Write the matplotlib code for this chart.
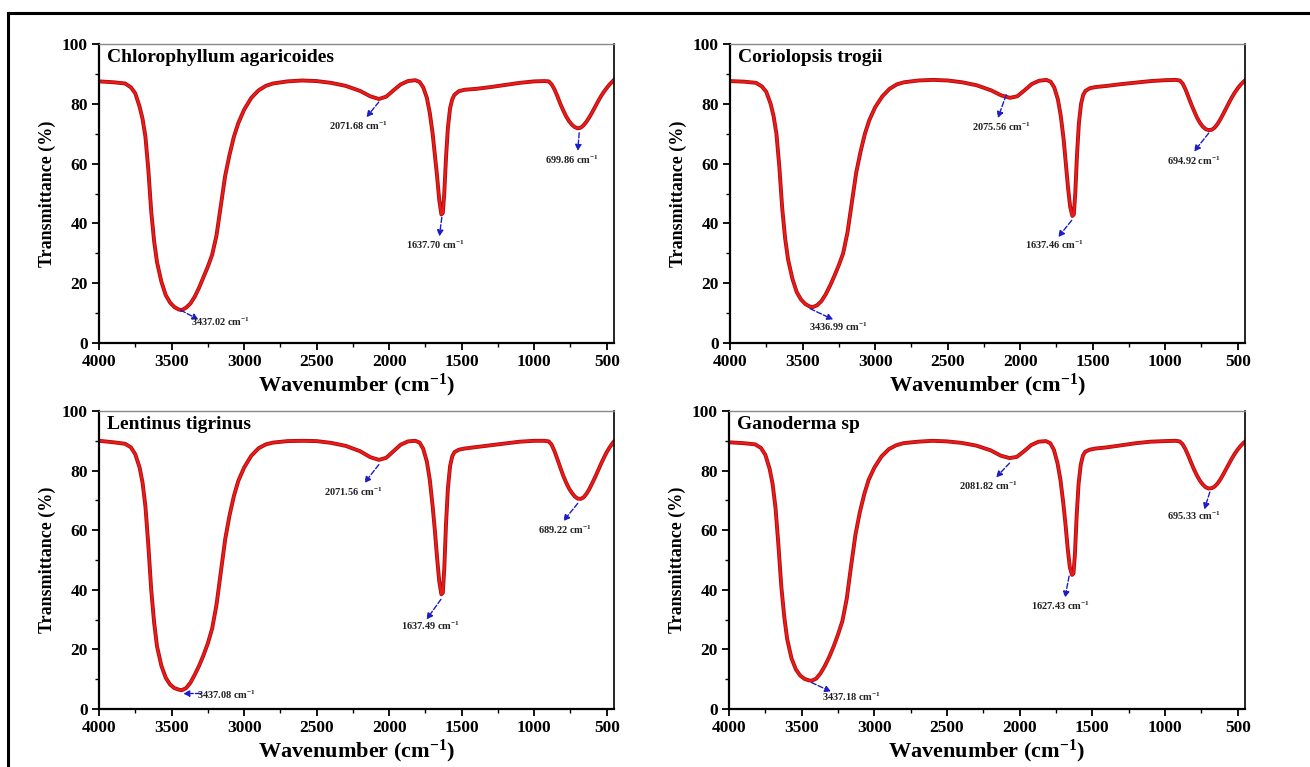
import matplotlib
matplotlib.use('Agg')
import matplotlib.pyplot as plt
from matplotlib.lines import Line2D
from matplotlib.ticker import MultipleLocator

plt.rcParams['font.family'] = ['Liberation Serif', 'DejaVu Serif']
plt.rcParams['font.weight'] = 'bold'
plt.rcParams['mathtext.fontset'] = 'custom'
plt.rcParams['mathtext.rm'] = 'Liberation Serif:bold'
plt.rcParams['mathtext.bf'] = 'Liberation Serif:bold'
plt.rcParams['mathtext.default'] = 'bf'

# shared wavenumber grid (cm-1)
wn = [4000, 3900, 3820, 3780, 3750, 3720, 3700, 3680, 3660, 3640,
      3620, 3600, 3570, 3540, 3510, 3480, 3450, 3430, 3400, 3370,
      3340, 3310, 3280, 3250, 3220, 3190, 3160, 3130, 3100, 3070,
      3040, 3000, 2950, 2900, 2850, 2800, 2700, 2600, 2500, 2400,
      2300, 2200, 2130, 2070, 2020, 1970, 1920, 1870, 1820, 1790,
      1765, 1740, 1720, 1700, 1685, 1670, 1655, 1640, 1630, 1620,
      1608, 1595, 1580, 1565, 1550, 1520, 1480, 1400, 1300, 1200,
      1100, 1000, 930, 900, 880, 860, 840, 820, 800, 780,
      760, 740, 720, 700, 680, 660, 640, 620, 600, 580,
      560, 540, 520, 500, 480, 460, 450]

t_chloro = [87.5, 87.2, 86.8, 85.5, 83.5, 79, 75, 69, 58, 44,
            34, 27, 20.5, 16, 13.5, 12, 11.2, 11, 11.8, 13.2,
            15.5, 18.5, 22, 25.5, 29.5, 36, 46, 56, 63, 69,
            73.5, 78, 82, 84.5, 86, 86.8, 87.5, 87.8, 87.6, 87,
            86, 84.3, 82.5, 81.6, 82.4, 84.5, 86.5, 87.6, 87.9, 87.3,
            85.5, 82, 77, 70, 63, 56, 48, 43, 43.5, 50,
            62, 72, 78.5, 81.5, 83, 84.2, 84.7, 85, 85.6, 86.3,
            87, 87.5, 87.6, 87.5, 86.5, 84.8, 82.5, 80, 77.8, 75.8,
            74.2, 73, 72.2, 71.8, 72, 72.8, 74, 75.5, 77.2, 79,
            80.8, 82.5, 84, 85.3, 86.5, 87.5, 88]

t_corio = [87.6, 87.4, 87, 85.8, 84, 80, 76, 70, 59, 45,
           35, 28, 21.5, 17, 14.5, 13, 12.2, 12, 12.6, 14,
           16.3, 19.2, 22.5, 26, 30, 37, 47, 57, 64, 70,
           74.5, 78.8, 82.5, 85, 86.5, 87.2, 87.8, 88, 87.8, 87.2,
           86.2, 84.5, 82.8, 82, 82.5, 84.5, 86.6, 87.7, 88, 87.4,
           85.5, 81.5, 76, 68, 60, 52, 45.5, 42.5, 43, 50,
           63, 73.5, 80, 83, 84.3, 85.2, 85.6, 86, 86.6, 87.1,
           87.6, 87.9, 88, 87.8, 86.8, 84.8, 82.3, 79.8, 77.5, 75.3,
           73.6, 72.3, 71.5, 71.2, 71.3, 72, 73.2, 74.8, 76.6, 78.5,
           80.4, 82.2, 83.8, 85.2, 86.4, 87.4, 87.8]

t_lenti = [90, 89.5, 89, 87.8, 85.5, 81, 76, 68, 55, 40,
           29, 21, 14.5, 10.5, 8.2, 7, 6.5, 6.3, 7, 8.8,
           11.5, 14.5, 18, 22, 27, 35, 46, 57, 65, 71.5,
           76.5, 81, 85, 87.5, 88.8, 89.4, 89.9, 90, 89.9, 89.3,
           88.3, 86.5, 84.5, 83.6, 84.3, 86.5, 88.7, 89.8, 90, 89.4,
           87.3, 83, 77, 68, 60, 51, 43, 38.5, 39, 47,
           62, 74, 81.5, 84.8, 86.2, 87, 87.4, 87.9, 88.5, 89.1,
           89.7, 90, 90, 89.8, 88.7, 86.5, 83.8, 81, 78.3, 76,
           74, 72.5, 71.3, 70.6, 70.5, 71, 72.2, 73.8, 75.8, 77.8,
           80, 82.2, 84.3, 86.2, 87.8, 89.2, 89.8]

t_gano = [89.5, 89.2, 88.8, 87.6, 85.3, 80.5, 75.5, 67.5, 55, 41,
          31, 23.5, 17, 13.3, 11.2, 10.1, 9.6, 9.5, 10.2, 12,
          14.5, 17.5, 21, 25, 29.5, 37, 48, 58.5, 66, 72,
          76.8, 81, 84.8, 87.2, 88.5, 89.2, 89.7, 90, 89.8, 89.3,
          88.4, 86.8, 85, 84.2, 84.6, 86.5, 88.6, 89.7, 89.9, 89.2,
          87, 82.5, 77, 69, 62, 54, 47.5, 45, 45.5, 52,
          65, 75.5, 82, 85, 86.3, 87, 87.4, 87.8, 88.5, 89.2,
          89.7, 89.9, 90, 89.8, 88.9, 87.2, 85, 82.6, 80.3, 78.3,
          76.6, 75.3, 74.4, 74, 74.1, 74.6, 75.6, 77, 78.7, 80.5,
          82.3, 84.1, 85.7, 87.1, 88.3, 89.3, 89.7]

names = ['Chlorophyllum agaricoides', 'Coriolopsis trogii',
         'Lentinus tigrinus', 'Ganoderma sp']
series = [t_chloro, t_corio, t_lenti, t_gano]

peak_labels = [
    ['3437.02', '2071.68', '1637.70', '699.86'],
    ['3436.99', '2075.56', '1637.46', '694.92'],
    ['3437.08', '2071.56', '1637.49', '689.22'],
    ['3437.18', '2081.82', '1627.43', '695.33'],
]

# arrow tail, arrow head, label centre for each peak (layout only)
arrows = [
    [((3437, 11), (3314, 7.8), (3160, 7.0)),
     ((2071, 80.6), (2157, 75.5), (2214, 72.6)),
     ((1637, 42), (1654, 35.6), (1680, 32.8)),
     ((690, 70.3), (700, 64.2), (743, 61.4))],
    [((3448, 11.5), (3288, 7.8), (3250, 5.4)),
     ((2096, 83), (2154, 75.2), (2125, 72.2)),
     ((1645, 41), (1738, 35.4), (1762, 32.7)),
     ((700, 70.2), (802, 64), (802, 61))],
    [((3300, 5.2), (3420, 5.2), (3120, 4.7)),
     ((2071, 82), (2171, 75.8), (2243, 73)),
     ((1643, 36.8), (1743, 30), (1714, 27.9)),
     ((700, 69), (800, 63), (786, 60.2))],
    [((3433, 8.9), (3297, 5.8), (3160, 4.1)),
     ((2070, 82.5), (2163, 77.7), (2212, 75)),
     ((1660, 44.6), (1689, 37.3), (1718, 34.6)),
     ((692, 72.8), (730, 66.9), (802, 64.7))],
]

W, H = 1310, 767
fig = plt.figure(figsize=(W / 100, H / 100), dpi=100)
boxes = [(99, 44, 515, 299), (730, 44, 515, 299),
         (99, 411, 515, 298), (729, 411, 516, 298)]

for i, (x0, y0, w, h) in enumerate(boxes):
    ax = fig.add_axes([x0 / W, 1 - (y0 + h) / H, w / W, h / H])
    ax.plot(wn, series[i], color='#a80c0c', lw=2.8, solid_joinstyle='round')
    ax.plot(wn, series[i], color='#ee1a1a', lw=1.6, solid_joinstyle='round')
    ax.set_xlim(4000, 450)
    ax.set_ylim(0, 100)
    ax.xaxis.set_major_locator(MultipleLocator(500))
    ax.xaxis.set_minor_locator(MultipleLocator(250))
    ax.yaxis.set_major_locator(MultipleLocator(20))
    ax.yaxis.set_minor_locator(MultipleLocator(10))
    ax.tick_params(which='major', direction='out', length=5, width=1.3,
                   labelsize=12.5, pad=3)
    ax.tick_params(which='minor', direction='out', length=3, width=1)
    for lab in ax.get_xticklabels() + ax.get_yticklabels():
        lab.set_fontweight('bold')
    for s in ['left', 'bottom']:
        ax.spines[s].set_linewidth(1.6)
    ax.spines['right'].set_linewidth(1.2)
    ax.spines['top'].set_linewidth(1.0)
    ax.spines['top'].set_color('#888888')
    ax.set_xlabel('Wavenumber (cm$^{-1}$)', fontsize=16,
                  fontweight='bold', labelpad=1)
    ax.set_ylabel('Transmittance (%)', fontsize=13, fontweight='bold',
                  labelpad=4)
    ax.text(0.016, 0.955, names[i], transform=ax.transAxes, fontsize=14,
            fontweight='bold', ha='left', va='center')
    for lab, (tail, head, txt) in zip(peak_labels[i], arrows[i]):
        ax.annotate('', xy=head, xytext=tail,
                    arrowprops=dict(arrowstyle='-|>', color='#1c1cc8',
                                    lw=1.0, ls='--', mutation_scale=9,
                                    shrinkA=0, shrinkB=0))
        ax.text(txt[0], txt[1], lab + ' cm$^{-1}$', fontsize=7.5,
                fontweight='bold', ha='center', va='center', color='#222222')

# outer frame of the figure (top and left edges)
fig.add_artist(Line2D([8 / W, 1], [1 - 13 / H, 1 - 13 / H], color='black',
                      lw=2.2, transform=fig.transFigure))
fig.add_artist(Line2D([8 / W, 8 / W], [0, 1 - 13 / H], color='black',
                      lw=2.2, transform=fig.transFigure))

fig.savefig('out.png', dpi=100)
